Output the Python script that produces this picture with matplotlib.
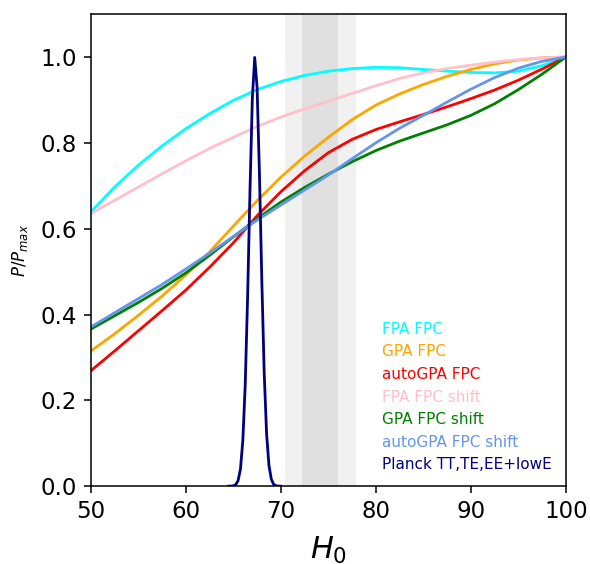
import numpy as np
import matplotlib
matplotlib.use("Agg")
import matplotlib.pyplot as plt

# H0 grid for the posterior curves
h0 = [50, 52.5, 55, 57.5, 60, 62.5, 65, 67.5, 70, 72.5, 75,
      77.5, 80, 82.5, 85, 87.5, 90, 92.5, 95, 97.5, 100]

fpa_fpc = [0.639, 0.697, 0.748, 0.793, 0.833, 0.868, 0.899, 0.924, 0.943, 0.957, 0.967,
           0.973, 0.976, 0.975, 0.971, 0.967, 0.964, 0.963, 0.967, 0.980, 1.0]
gpa_fpc = [0.315, 0.355, 0.398, 0.443, 0.492, 0.546, 0.606, 0.665, 0.720, 0.769, 0.813,
           0.854, 0.888, 0.914, 0.936, 0.955, 0.971, 0.984, 0.993, 0.998, 1.0]
autogpa_fpc = [0.269, 0.315, 0.362, 0.409, 0.457, 0.510, 0.567, 0.630, 0.686, 0.735, 0.777,
               0.808, 0.831, 0.849, 0.866, 0.884, 0.903, 0.923, 0.946, 0.972, 1.0]
fpa_fpc_shift = [0.635, 0.666, 0.697, 0.728, 0.758, 0.787, 0.813, 0.838, 0.860, 0.879, 0.897,
                 0.915, 0.933, 0.950, 0.963, 0.973, 0.981, 0.988, 0.994, 0.998, 1.0]
gpa_fpc_shift = [0.366, 0.397, 0.428, 0.461, 0.497, 0.538, 0.581, 0.623, 0.662, 0.696, 0.727,
                 0.756, 0.782, 0.804, 0.823, 0.842, 0.864, 0.891, 0.924, 0.960, 1.0]
autogpa_fpc_shift = [0.371, 0.404, 0.437, 0.470, 0.506, 0.543, 0.582, 0.620, 0.655, 0.690, 0.725,
                     0.763, 0.800, 0.834, 0.864, 0.895, 0.925, 0.952, 0.974, 0.990, 1.0]

# Planck TT,TE,EE+lowE posterior (normalised)
planck_h0 = [64.5, 64.75, 65.0, 65.25, 65.5, 65.75, 66.0, 66.25, 66.5, 66.75, 67.0, 67.25,
             67.5, 67.75, 68.0, 68.25, 68.5, 68.75, 69.0, 69.25, 69.5, 69.75, 70.0]
planck_p = [0.0, 0.0002, 0.0008, 0.0035, 0.013, 0.040, 0.107, 0.236, 0.439, 0.687, 0.904, 0.999,
            0.929, 0.726, 0.477, 0.263, 0.122, 0.048, 0.016, 0.004, 0.001, 0.0002, 0.0]

# local H0 bands (1 and 2 sigma)
band_outer = (70.4, 77.9)
band_inner = (72.24, 76.03)

series = [
    ("FPA FPC", fpa_fpc, "cyan"),
    ("GPA FPC", gpa_fpc, "orange"),
    ("autoGPA FPC", autogpa_fpc, "red"),
    ("FPA FPC shift", fpa_fpc_shift, "pink"),
    ("GPA FPC shift", gpa_fpc_shift, "green"),
    ("autoGPA FPC shift", autogpa_fpc_shift, "cornflowerblue"),
]

fig = plt.figure(figsize=(5.9, 5.64), dpi=100)
ax = fig.add_axes([0.154, 0.138, 0.805, 0.837])

ax.axvspan(*band_outer, color="#f1f1f1", lw=0)
ax.axvspan(*band_inner, color="#e0e0e0", lw=0)

for label, vals, col in series:
    ax.plot(h0, vals, color=col, lw=2, label=label)
ax.plot(planck_h0, planck_p, color="navy", lw=2, label="Planck TT,TE,EE+lowE")

ax.set_xlim(50, 100)
ax.set_ylim(0, 1.1)
ax.set_xticks([50, 60, 70, 80, 90, 100])
ax.set_yticks([0.0, 0.2, 0.4, 0.6, 0.8, 1.0])
ax.tick_params(labelsize=16.5, length=5.2, width=1.1, pad=5)
for sp in ax.spines.values():
    sp.set_linewidth(1.1)
ax.set_xlabel("$H_0$", fontsize=22, labelpad=8)
ax.set_ylabel("$P/P_{max}$", fontsize=12, labelpad=7)

ax.legend(loc="lower right", frameon=False, handlelength=0, handletextpad=0,
          labelcolor="linecolor", fontsize=11)

fig.savefig("out.png", dpi=100)
